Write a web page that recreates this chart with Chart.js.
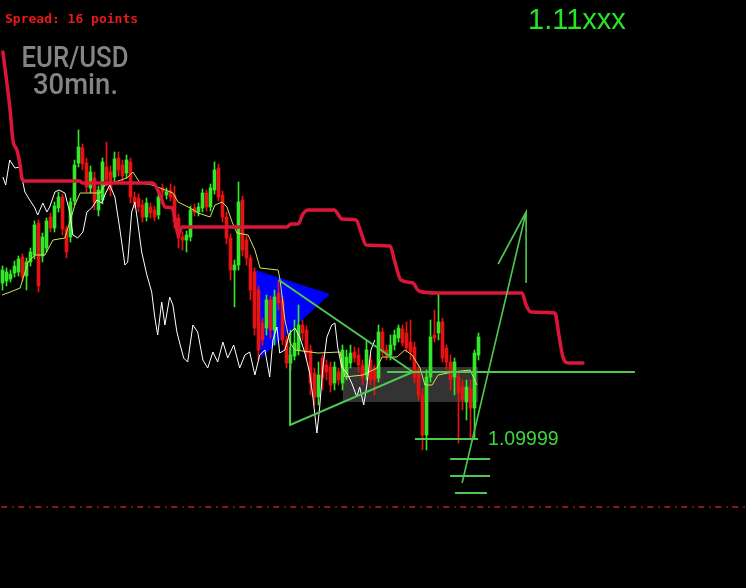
<!DOCTYPE html>
<html>
<head>
<meta charset="utf-8">
<script src="https://cdn.jsdelivr.net/npm/chart.js"></script>
<style>
  html, body { margin: 0; padding: 0; background: #000; overflow: hidden; }
  canvas { display: block; }
</style>
</head>
<body>
<canvas id="chart" width="746" height="588"></canvas>
<script>
// EUR/USD 30 min candles, oldest first
const opens = [
  1.10155,1.10157,1.10159,1.10165,1.10166,1.10181,1.10162,1.10176,1.10183,1.10215,
  1.10182,1.10190,1.10221,1.10210,1.10230,1.10241,1.10209,1.10201,1.10237,1.10275,
  1.10290,1.10275,1.10250,1.10260,1.10228,1.10238,1.10271,1.10266,1.10261,1.10280,
  1.10273,1.10265,1.10276,1.10241,1.10240,1.10233,1.10221,1.10231,1.10228,1.10223,
  1.10250,1.10243,1.10248,1.10243,1.10220,1.10201,1.10198,1.10201,1.10230,1.10226,
  1.10230,1.10245,1.10231,1.10248,1.10270,1.10243,1.10221,1.10200,1.10168,1.10173,
  1.10238,1.10198,1.10180,1.10166,1.10148,1.10115,1.10110,1.10138,1.10108,1.10145,
  1.10138,1.10098,1.10075,1.10082,1.10088,1.10113,1.10108,1.10088,1.10065,1.10041,
  1.10080,1.10073,1.10071,1.10055,1.10066,1.10055,1.10063,1.10075,1.10086,1.10083,
  1.10073,1.10063,1.10078,1.10068,1.10060,1.10106,1.10088,1.10083,1.10093,1.10100,
  1.10109,1.10105,1.10096,1.10091,1.10068,1.10043,1.10003,1.10061,1.10103,1.10105,
  1.10116,1.10090,1.10076,1.10061,1.10061,1.10051,1.10036,1.10050,1.10030,1.10083]
const highs = [
  1.10172,1.10170,1.10168,1.10177,1.10182,1.10184,1.10180,1.10190,1.10217,1.10218,
  1.10205,1.10220,1.10225,1.10236,1.10246,1.10244,1.10212,1.10240,1.10278,1.10308,
  1.10294,1.10280,1.10272,1.10266,1.10252,1.10280,1.10296,1.10272,1.10286,1.10286,
  1.10278,1.10283,1.10280,1.10246,1.10244,1.10238,1.10240,1.10235,1.10232,1.10245,
  1.10254,1.10250,1.10254,1.10252,1.10224,1.10206,1.10207,1.10232,1.10234,1.10235,
  1.10249,1.10248,1.10254,1.10276,1.10274,1.10247,1.10226,1.10204,1.10178,1.10256,
  1.10242,1.10202,1.10183,1.10170,1.10152,1.10120,1.10143,1.10142,1.10148,1.10158,
  1.10142,1.10102,1.10108,1.10118,1.10133,1.10118,1.10112,1.10093,1.10070,1.10076,
  1.10083,1.10078,1.10076,1.10076,1.10070,1.10093,1.10088,1.10093,1.10091,1.10090,
  1.10078,1.10098,1.10083,1.10073,1.10113,1.10110,1.10093,1.10103,1.10108,1.10113,
  1.10113,1.10116,1.10118,1.10096,1.10073,1.10050,1.10068,1.10118,1.10128,1.10145,
  1.10120,1.10093,1.10083,1.10080,1.10068,1.10058,1.10058,1.10058,1.10088,1.10105]
const lows = [
  1.10148,1.10152,1.10156,1.10161,1.10162,1.10157,1.10148,1.10172,1.10179,1.10146,
  1.10176,1.10186,1.10206,1.10206,1.10226,1.10203,1.10180,1.10196,1.10233,1.10271,
  1.10268,1.10246,1.10245,1.10228,1.10222,1.10234,1.10252,1.10242,1.10256,1.10262,
  1.10256,1.10260,1.10235,1.10230,1.10226,1.10216,1.10217,1.10220,1.10217,1.10219,
  1.10241,1.10239,1.10237,1.10210,1.10190,1.10188,1.10186,1.10197,1.10222,1.10222,
  1.10226,1.10227,1.10227,1.10244,1.10237,1.10216,1.10194,1.10158,1.10131,1.10168,
  1.10182,1.10173,1.10138,1.10103,1.10078,1.10093,1.10103,1.10100,1.10093,1.10128,
  1.10093,1.10070,1.10068,1.10078,1.10083,1.10098,1.10078,1.10043,1.10033,1.10033,
  1.10048,1.10058,1.10046,1.10048,1.10053,1.10048,1.10058,1.10070,1.10076,1.10066,
  1.10053,1.10058,1.10053,1.10043,1.10056,1.10082,1.10078,1.10078,1.10088,1.10096,
  1.10092,1.10086,1.10078,1.10055,1.10038,1.09988,1.09988,1.10056,1.10096,1.10098,
  1.10076,1.10068,1.10048,1.10043,1.09995,1.10028,1.10018,1.09998,1.10000,1.10078]
const closes = [
  1.10168,1.10166,1.10164,1.10172,1.10179,1.10161,1.10176,1.10186,1.10213,1.10152,
  1.10201,1.10217,1.10210,1.10232,1.10241,1.10209,1.10186,1.10236,1.10273,1.10291,
  1.10274,1.10251,1.10266,1.10235,1.10248,1.10276,1.10258,1.10248,1.10279,1.10268,
  1.10262,1.10278,1.10241,1.10235,1.10231,1.10221,1.10235,1.10225,1.10221,1.10241,
  1.10246,1.10246,1.10241,1.10216,1.10200,1.10198,1.10203,1.10228,1.10226,1.10231,
  1.10245,1.10231,1.10250,1.10268,1.10241,1.10221,1.10200,1.10168,1.10173,1.10236,
  1.10188,1.10180,1.10148,1.10110,1.10088,1.10098,1.10138,1.10108,1.10141,1.10135,
  1.10098,1.10075,1.10083,1.10095,1.10113,1.10105,1.10085,1.10055,1.10041,1.10063,
  1.10060,1.10066,1.10053,1.10071,1.10058,1.10088,1.10081,1.10085,1.10080,1.10073,
  1.10060,1.10088,1.10058,1.10058,1.10106,1.10086,1.10083,1.10093,1.10103,1.10110,
  1.10095,1.10090,1.10086,1.10061,1.10043,1.10003,1.10061,1.10101,1.10100,1.10116,
  1.10080,1.10076,1.10058,1.10076,1.10045,1.10038,1.10051,1.10030,1.10085,1.10101]

// white lagging line (bar index, price)
const whiteX = [0.1,0.8,1.8,3.1,4.3,5.6,6.8,8.1,8.8,10.1,11.1,11.8,13.1,14.1,15.6,16.8,17.6,18.8,20.1,21.1,
  22.3,23.6,24.8,25.8,26.8,28.1,29.3,30.6,31.3,32.3,33.1,33.8,34.8,36.1,37.3,38.1,38.8,39.8,40.6,41.8,
  42.6,43.6,44.3,45.3,46.3,47.6,48.8,50.1,51.3,52.6,53.8,55.1,56.3,57.8,59.3,60.6,61.8,63.1,64.3,65.6,
  66.8,67.6,68.6,69.3,70.6,71.8,73.1,74.3,75.6,76.8,77.6,78.6,79.3,80.1,81.1,82.3,83.1,83.8,84.8,86.1,
  87.3,88.6,89.3,90.3,91.1,92.1,93.1]
const whiteY = [1.10261,1.10253,1.10278,1.10270,1.10271,1.10246,1.10238,1.10230,1.10223,1.10235,1.10226,1.10231,1.10246,1.10248,1.10245,1.10226,1.10203,1.10200,1.10206,1.10226,
  1.10230,1.10238,1.10235,1.10245,1.10253,1.10241,1.10210,1.10173,1.10176,1.10226,1.10236,1.10216,1.10186,1.10163,1.10146,1.10120,1.10103,1.10136,1.10113,1.10141,
  1.10133,1.10106,1.10095,1.10080,1.10076,1.10113,1.10106,1.10078,1.10070,1.10086,1.10076,1.10096,1.10080,1.10093,1.10070,1.10083,1.10086,1.10063,1.10083,1.10088,
  1.10061,1.10098,1.10111,1.10085,1.10088,1.10105,1.10110,1.10101,1.10085,1.10065,1.10041,1.10005,1.10031,1.10071,1.10101,1.10113,1.10115,1.10091,1.10071,1.10065,
  1.10055,1.10041,1.10051,1.10033,1.10053,1.10088,1.10098]

// thin yellow line
const yellowX = [-0.1,1.9,4.4,6.4,8.1,10.6,12.6,15.6,18.1,19.4,24.4,25.6,28.1,31.1,32.6,34.4,37.4,39.4,42.6,43.9,
  46.9,48.9,51.9,53.1,54.9,56.1,57.4,58.6,61.4,63.1,64.4,68.9,69.4,70.6,71.9,73.1,78.9,84.4,85.6,90.1,
  93.6,94.9,98.6,100.6,102.4,104.4,105.6,107.4,108.9,112.6,116.9,118.6]
const yellowY = [1.10143,1.10146,1.10150,1.10176,1.10183,1.10183,1.10198,1.10200,1.10233,1.10245,1.10245,1.10253,1.10256,1.10260,1.10266,1.10255,1.10253,1.10250,1.10245,1.10236,
  1.10230,1.10225,1.10221,1.10233,1.10236,1.10231,1.10216,1.10205,1.10203,1.10188,1.10170,1.10168,1.10158,1.10118,1.10095,1.10088,1.10085,1.10086,1.10061,1.10063,
  1.10070,1.10081,1.10081,1.10088,1.10083,1.10070,1.10053,1.10053,1.10063,1.10066,1.10068,1.10053]

// thick red base line, runs past the last bar
const redX = [0.1,1.9,2.6,3.6,4.4,4.9,5.6,19.4,19.9,37.6,39.4,40.6,42.4,43.4,43.9,44.9,71.1,72.1,73.9,75.1,
  76.4,82.9,84.9,88.4,89.6,90.9,96.9,98.1,99.6,102.6,104.1,108.6,129.9,130.9,132.1,138.1,139.1,140.1,141.4,145.1]
const redY = [1.10386,1.10328,1.10298,1.10288,1.10273,1.10259,1.10257,1.10257,1.10255,1.10255,1.10243,1.10231,1.10230,1.10213,1.10203,1.10211,1.10211,1.10214,1.10214,1.10224,
  1.10228,1.10228,1.10219,1.10218,1.10206,1.10193,1.10192,1.10176,1.10158,1.10155,1.10147,1.10145,1.10145,1.10133,1.10126,1.10125,1.10103,1.10081,1.10075,1.10075]

// hand drawn objects
const blueX = [63.1, 81.9, 64.6]
const blueY = [1.10168, 1.10144, 1.10080]
const boxX = [85.1, 118.9]
const boxY = [1.10071, 1.10036]
const triX = [69.1, 102.6, 71.9, 71.9]
const triY = [1.10158, 1.10066, 1.10013, 1.10091]
const levelX = [96.1, 158.1]
const levelY = [1.10066, 1.10066]
const lowX = [103.1, 118.9]
const lowY = [1.09999, 1.09999]
const stepsX = [111.9, 121.9, 121.9, 111.9, 121.9, 121.9, 113.1, 121.1]
const stepsY = [1.09979, 1.09979, null, 1.09962, 1.09962, null, 1.09945, 1.09945]
const arrowX = [114.9, 130.9, 130.9, 123.9, 130.9, 130.9]
const arrowY = [1.09955, 1.10226, null, 1.10174, 1.10226, 1.10155]
const dashX = [-0.3, 185.9]
const dashY = [1.09931, 1.09931]

const lowLabel = '1.09999'
const priceLabel = '1.11xxx'
const spreadText = 'Spread: 16 points'

const bull = 'rgb(50,232,40)'
const bear = 'rgb(232,18,18)'
const drawGreen = 'rgb(78,200,78)'

function pts(xs, ys) {
  return xs.map((x, i) => ({x: x, y: ys[i]}))
}

const candleColors = opens.map((o, i) => closes[i] >= o ? bull : bear)

function lineSet(xs, ys, color, width, order, extra) {
  return Object.assign({
    type: 'line',
    data: pts(xs, ys),
    borderColor: color,
    borderWidth: width,
    pointRadius: 0,
    fill: false,
    tension: 0,
    order: order
  }, extra || {})
}

const backShapes = {
  id: 'backShapes',
  beforeDatasetsDraw(chart) {
    const {ctx, scales: {x, y}} = chart
    ctx.save()
    ctx.fillStyle = '#333333'
    const x0 = x.getPixelForValue(boxX[0]), x1 = x.getPixelForValue(boxX[1])
    const y0 = y.getPixelForValue(boxY[0]), y1 = y.getPixelForValue(boxY[1])
    ctx.fillRect(x0, y0, x1 - x0, y1 - y0)
    ctx.fillStyle = '#0000ff'
    ctx.beginPath()
    blueX.forEach((v, i) => {
      const px = x.getPixelForValue(v), py = y.getPixelForValue(blueY[i])
      if (i === 0) ctx.moveTo(px, py)
      else ctx.lineTo(px, py)
    })
    ctx.closePath()
    ctx.fill()
    ctx.restore()
  }
}

function fitText(ctx, text, cx, base, width) {
  const w = ctx.measureText(text).width
  ctx.save()
  ctx.translate(cx, base)
  ctx.scale(width / w, 1)
  ctx.textAlign = 'center'
  ctx.fillText(text, 0, 0)
  ctx.restore()
}

const labels = {
  id: 'labels',
  afterDraw(chart) {
    const {ctx, scales: {x, y}} = chart
    ctx.save()
    ctx.textBaseline = 'alphabetic'
    ctx.fillStyle = 'rgb(235,25,25)'
    ctx.font = 'bold 13px "DejaVu Sans Mono"'
    ctx.fillText(spreadText, 5, 23)

    ctx.fillStyle = 'rgb(132,132,132)'
    ctx.font = '500 29px Roboto'
    fitText(ctx, 'EUR/USD', 75, 67, 107)
    fitText(ctx, '30min.', 75.5, 94, 85)

    ctx.fillStyle = 'rgb(40,228,40)'
    ctx.font = '29px "Liberation Sans"'
    ctx.fillText(priceLabel, 528, 29)

    ctx.fillStyle = 'rgb(60,215,60)'
    ctx.font = '19.5px "Liberation Sans"'
    ctx.fillText(lowLabel, x.getPixelForValue(121.4), y.getPixelForValue(1.09999) + 6)
    ctx.restore()
  }
}

new Chart(document.getElementById('chart'), {
  type: 'line',
  data: {
    datasets: [
      lineSet(arrowX, arrowY, drawGreen, 1.6, 0),
      lineSet(stepsX, stepsY, drawGreen, 2, 0),
      lineSet(lowX, lowY, drawGreen, 2, 0),
      lineSet(levelX, levelY, drawGreen, 2, 0),
      lineSet(triX, triY, drawGreen, 2, 0),
      lineSet(redX, redY, 'rgb(220,22,58)', 3.5, 1, {cubicInterpolationMode: 'monotone', borderCapStyle: 'round'}),
      lineSet(whiteX, whiteY, '#ffffff', 1, 2),
      lineSet(yellowX, yellowY, 'rgb(212,226,90)', 1, 3),
      {
        type: 'bar',
        data: opens.map((o, i) => ({x: i, y: [o, closes[i]]})),
        backgroundColor: candleColors,
        barThickness: 3,
        minBarLength: 1,
        grouped: false,
        borderWidth: 0,
        order: 4
      },
      {
        type: 'bar',
        data: opens.map((o, i) => ({x: i, y: [lows[i], highs[i]]})),
        backgroundColor: candleColors,
        barThickness: 1,
        grouped: false,
        borderWidth: 0,
        order: 5
      },
      lineSet(dashX, dashY, 'rgb(185,34,34)', 1.5, 6, {borderDash: [6, 5, 1.5, 4.5]})
    ]
  },
  options: {
    responsive: false,
    animation: false,
    events: [],
    layout: { padding: 0 },
    plugins: {
      legend: { display: false },
      tooltip: { enabled: false }
    },
    scales: {
      x: { type: 'linear', display: false, offset: false, min: -0.625, max: 185.875 },
      y: { type: 'linear', display: false, beginAtZero: false, min: 1.09850, max: 1.10438 }
    }
  },
  plugins: [backShapes, labels]
})
</script>
</body>
</html>
